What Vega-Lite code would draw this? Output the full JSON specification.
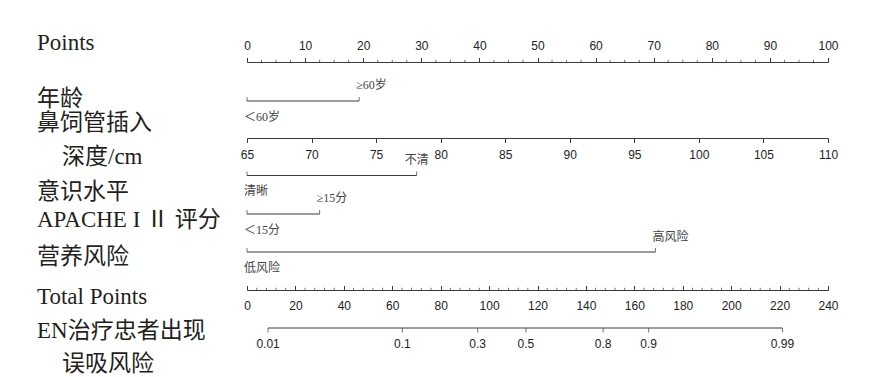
{
  "$schema": "https://vega.github.io/schema/vega-lite/v6.json",
  "padding": {"left": 37, "top": 32, "right": 10, "bottom": 5},
  "spacing": 0,
  "bounds": "flush",
  "datasets": {
    "factors": [
      {"variable": "age", "level": "＜60岁", "order": 1, "points": 0},
      {"variable": "age", "level": "≥60岁", "order": 2, "points": 19.3},
      {"variable": "consciousness", "level": "清晰", "order": 1, "points": 0},
      {"variable": "consciousness", "level": "不清", "order": 2, "points": 29.2},
      {"variable": "apache", "level": "＜15分", "order": 1, "points": 0},
      {"variable": "apache", "level": "≥15分", "order": 2, "points": 12.5},
      {"variable": "nutrition", "level": "低风险", "order": 1, "points": 0},
      {"variable": "nutrition", "level": "高风险", "order": 2, "points": 70.3}
    ],
    "risk": [
      {"p": "0.01", "total": 8.7},
      {"p": "0.1", "total": 64.2},
      {"p": "0.3", "total": 95.3},
      {"p": "0.5", "total": 115.2},
      {"p": "0.8", "total": 147.1},
      {"p": "0.9", "total": 165.9},
      {"p": "0.99", "total": 221.2}
    ],
    "pointsMinor": [
      {"v": 2.5}, {"v": 5}, {"v": 7.5}, {"v": 12.5}, {"v": 15}, {"v": 17.5}, {"v": 22.5}, {"v": 25}, {"v": 27.5}, {"v": 32.5}, {"v": 35}, {"v": 37.5}, {"v": 42.5}, {"v": 45}, {"v": 47.5}, {"v": 52.5}, {"v": 55}, {"v": 57.5}, {"v": 62.5}, {"v": 65}, {"v": 67.5}, {"v": 72.5}, {"v": 75}, {"v": 77.5}, {"v": 82.5}, {"v": 85}, {"v": 87.5}, {"v": 92.5}, {"v": 95}, {"v": 97.5}
    ],
    "totalMinor": [
      {"v": 4}, {"v": 8}, {"v": 12}, {"v": 16}, {"v": 24}, {"v": 28}, {"v": 32}, {"v": 36}, {"v": 44}, {"v": 48}, {"v": 52}, {"v": 56}, {"v": 64}, {"v": 68}, {"v": 72}, {"v": 76}, {"v": 84}, {"v": 88}, {"v": 92}, {"v": 96}, {"v": 104}, {"v": 108}, {"v": 112}, {"v": 116}, {"v": 124}, {"v": 128}, {"v": 132}, {"v": 136}, {"v": 144}, {"v": 148}, {"v": 152}, {"v": 156}, {"v": 164}, {"v": 168}, {"v": 172}, {"v": 176}, {"v": 184}, {"v": 188}, {"v": 192}, {"v": 196}, {"v": 204}, {"v": 208}, {"v": 212}, {"v": 216}, {"v": 224}, {"v": 228}, {"v": 232}, {"v": 236}
    ],
    "one": [{}]
  },
  "vconcat": [
    {
      "width": 581,
      "height": 3,
      "layer": [
        {
          "data": {"values": [{"points": 0}, {"points": 100}]},
          "mark": {"type": "point", "opacity": 0},
          "encoding": {
            "x": {
              "field": "points",
              "type": "quantitative",
              "scale": {"domain": [0, 100], "nice": false, "zero": false},
              "axis": {
                "orient": "top",
                "values": [0, 10, 20, 30, 40, 50, 60, 70, 80, 90, 100],
                "tickSize": 4.5,
                "labelPadding": 5,
                "labelOverlap": false
              }
            }
          }
        },
        {
          "data": {"name": "pointsMinor"},
          "mark": {"type": "tick", "orient": "vertical", "size": 2.2, "thickness": 1, "yOffset": -2.6, "color": "#3a3a3a"},
          "encoding": {"x": {"field": "v", "type": "quantitative"}}
        },
        {
          "data": {"name": "one"},
          "mark": {"type": "text", "align": "left", "baseline": "middle", "dx": -210, "dy": -20.5, "font": "Liberation Serif, Noto Sans CJK SC", "fontSize": 23, "color": "#231f20"},
          "encoding": {"x": {"datum": 0, "type": "quantitative"}, "text": {"value": "Points"}}
        }
      ]
    },
    {
      "width": 581,
      "height": 72,
      "layer": [
        {
          "data": {"name": "factors"},
          "transform": [{"filter": "datum.variable === 'age'"}],
          "layer": [
            {
              "mark": {"type": "rule", "color": "#3a3a3a", "strokeWidth": 1},
              "encoding": {
                "x": {"aggregate": "min", "field": "points", "type": "quantitative", "scale": {"domain": [0, 100], "nice": false, "zero": false}, "axis": null},
                "x2": {"aggregate": "max", "field": "points"}
              }
            },
            {
              "mark": {"type": "tick", "orient": "vertical", "size": 4, "thickness": 1, "yOffset": -2, "color": "#3a3a3a"},
              "encoding": {"x": {"field": "points", "type": "quantitative"}}
            },
            {
              "transform": [{"filter": "datum.order === 1"}],
              "mark": {"type": "text", "align": "left", "baseline": "middle", "dx": -3, "dy": 15.5, "font": "Liberation Serif, Noto Sans CJK SC", "fontSize": 12, "color": "#444"},
              "encoding": {"x": {"field": "points", "type": "quantitative"}, "text": {"field": "level"}}
            },
            {
              "transform": [{"filter": "datum.order === 2"}],
              "mark": {"type": "text", "align": "left", "baseline": "middle", "dx": -3, "dy": -16, "font": "Liberation Serif, Noto Sans CJK SC", "fontSize": 12, "color": "#444"},
              "encoding": {"x": {"field": "points", "type": "quantitative"}, "text": {"field": "level"}}
            }
          ]
        },
        {
          "data": {"name": "one"},
          "mark": {"type": "text", "align": "left", "baseline": "middle", "dx": -210, "dy": -2, "font": "Liberation Serif, Noto Sans CJK SC", "fontSize": 23, "color": "#231f20"},
          "encoding": {"x": {"datum": 0, "type": "quantitative"}, "text": {"value": "年龄"}}
        }
      ]
    },
    {
      "width": 581,
      "height": 1,
      "layer": [
        {
          "data": {"values": [{"depth": 65}, {"depth": 110}]},
          "mark": {"type": "point", "opacity": 0},
          "encoding": {
            "x": {
              "field": "depth",
              "type": "quantitative",
              "scale": {"domain": [65, 110], "nice": false, "zero": false},
              "axis": {
                "orient": "bottom",
                "values": [65, 70, 75, 80, 85, 90, 95, 100, 105, 110],
                "tickSize": 4.5,
                "labelPadding": 7,
                "labelOverlap": false
              }
            }
          }
        },
        {
          "data": {"name": "one"},
          "mark": {"type": "text", "align": "left", "baseline": "middle", "dx": -210, "dy": -14.5, "font": "Liberation Serif, Noto Sans CJK SC", "fontSize": 23, "color": "#231f20"},
          "encoding": {"x": {"datum": 65, "type": "quantitative"}, "text": {"value": "鼻饲管插入"}}
        },
        {
          "data": {"name": "one"},
          "mark": {"type": "text", "align": "left", "baseline": "middle", "dx": -185, "dy": 19.5, "font": "Liberation Serif, Noto Sans CJK SC", "fontSize": 23, "color": "#231f20"},
          "encoding": {"x": {"datum": 65, "type": "quantitative"}, "text": {"value": "深度/cm"}}
        }
      ]
    },
    {
      "width": 581,
      "height": 75,
      "layer": [
        {
          "data": {"name": "factors"},
          "transform": [{"filter": "datum.variable === 'consciousness'"}],
          "layer": [
            {
              "mark": {"type": "rule", "color": "#3a3a3a", "strokeWidth": 1},
              "encoding": {
                "x": {"aggregate": "min", "field": "points", "type": "quantitative", "scale": {"domain": [0, 100], "nice": false, "zero": false}, "axis": null},
                "x2": {"aggregate": "max", "field": "points"}
              }
            },
            {
              "mark": {"type": "tick", "orient": "vertical", "size": 4, "thickness": 1, "yOffset": -2, "color": "#3a3a3a"},
              "encoding": {"x": {"field": "points", "type": "quantitative"}}
            },
            {
              "transform": [{"filter": "datum.order === 1"}],
              "mark": {"type": "text", "align": "left", "baseline": "middle", "dx": -3, "dy": 15.5, "font": "Liberation Serif, Noto Sans CJK SC", "fontSize": 12, "color": "#444"},
              "encoding": {"x": {"field": "points", "type": "quantitative"}, "text": {"field": "level"}}
            },
            {
              "transform": [{"filter": "datum.order === 2"}],
              "mark": {"type": "text", "align": "center", "baseline": "middle", "dy": -16, "font": "Liberation Serif, Noto Sans CJK SC", "fontSize": 12, "color": "#444"},
              "encoding": {"x": {"field": "points", "type": "quantitative"}, "text": {"field": "level"}}
            }
          ]
        },
        {
          "data": {"name": "one"},
          "mark": {"type": "text", "align": "left", "baseline": "middle", "dx": -210, "dy": 16.5, "font": "Liberation Serif, Noto Sans CJK SC", "fontSize": 23, "color": "#231f20"},
          "encoding": {"x": {"datum": 0, "type": "quantitative"}, "text": {"value": "意识水平"}}
        }
      ]
    },
    {
      "width": 581,
      "height": 2,
      "layer": [
        {
          "data": {"name": "factors"},
          "transform": [{"filter": "datum.variable === 'apache'"}],
          "layer": [
            {
              "mark": {"type": "rule", "color": "#3a3a3a", "strokeWidth": 1},
              "encoding": {
                "x": {"aggregate": "min", "field": "points", "type": "quantitative", "scale": {"domain": [0, 100], "nice": false, "zero": false}, "axis": null},
                "x2": {"aggregate": "max", "field": "points"}
              }
            },
            {
              "mark": {"type": "tick", "orient": "vertical", "size": 4, "thickness": 1, "yOffset": -2, "color": "#3a3a3a"},
              "encoding": {"x": {"field": "points", "type": "quantitative"}}
            },
            {
              "transform": [{"filter": "datum.order === 1"}],
              "mark": {"type": "text", "align": "left", "baseline": "middle", "dx": -3, "dy": 15.5, "font": "Liberation Serif, Noto Sans CJK SC", "fontSize": 12, "color": "#444"},
              "encoding": {"x": {"field": "points", "type": "quantitative"}, "text": {"field": "level"}}
            },
            {
              "transform": [{"filter": "datum.order === 2"}],
              "mark": {"type": "text", "align": "left", "baseline": "middle", "dx": -3, "dy": -16, "font": "Liberation Serif, Noto Sans CJK SC", "fontSize": 12, "color": "#444"},
              "encoding": {"x": {"field": "points", "type": "quantitative"}, "text": {"field": "level"}}
            }
          ]
        },
        {
          "data": {"name": "one"},
          "mark": {"type": "text", "align": "left", "baseline": "middle", "dx": -210, "dy": 6, "font": "Liberation Serif, Noto Sans CJK SC", "fontSize": 23, "color": "#231f20"},
          "encoding": {"x": {"datum": 0, "type": "quantitative"}, "text": {"value": "APACHE I Ⅱ 评分"}}
        }
      ]
    },
    {
      "width": 581,
      "height": 74,
      "layer": [
        {
          "data": {"name": "factors"},
          "transform": [{"filter": "datum.variable === 'nutrition'"}],
          "layer": [
            {
              "mark": {"type": "rule", "color": "#3a3a3a", "strokeWidth": 1},
              "encoding": {
                "x": {"aggregate": "min", "field": "points", "type": "quantitative", "scale": {"domain": [0, 100], "nice": false, "zero": false}, "axis": null},
                "x2": {"aggregate": "max", "field": "points"}
              }
            },
            {
              "mark": {"type": "tick", "orient": "vertical", "size": 4, "thickness": 1, "yOffset": -2, "color": "#3a3a3a"},
              "encoding": {"x": {"field": "points", "type": "quantitative"}}
            },
            {
              "transform": [{"filter": "datum.order === 1"}],
              "mark": {"type": "text", "align": "left", "baseline": "middle", "dx": -3, "dy": 15.5, "font": "Liberation Serif, Noto Sans CJK SC", "fontSize": 12, "color": "#444"},
              "encoding": {"x": {"field": "points", "type": "quantitative"}, "text": {"field": "level"}}
            },
            {
              "transform": [{"filter": "datum.order === 2"}],
              "mark": {"type": "text", "align": "left", "baseline": "middle", "dx": -3, "dy": -15, "font": "Liberation Serif, Noto Sans CJK SC", "fontSize": 12, "color": "#444"},
              "encoding": {"x": {"field": "points", "type": "quantitative"}, "text": {"field": "level"}}
            }
          ]
        },
        {
          "data": {"name": "one"},
          "mark": {"type": "text", "align": "left", "baseline": "middle", "dx": -210, "dy": 5, "font": "Liberation Serif, Noto Sans CJK SC", "fontSize": 23, "color": "#231f20"},
          "encoding": {"x": {"datum": 0, "type": "quantitative"}, "text": {"value": "营养风险"}}
        }
      ]
    },
    {
      "width": 581,
      "height": 1,
      "layer": [
        {
          "data": {"values": [{"total": 0}, {"total": 240}]},
          "mark": {"type": "point", "opacity": 0},
          "encoding": {
            "x": {
              "field": "total",
              "type": "quantitative",
              "scale": {"domain": [0, 240], "nice": false, "zero": false},
              "axis": {
                "orient": "bottom",
                "values": [0, 20, 40, 60, 80, 100, 120, 140, 160, 180, 200, 220, 240],
                "tickSize": -4.5,
                "labelPadding": 15,
                "labelOverlap": false
              }
            }
          }
        },
        {
          "data": {"name": "totalMinor"},
          "mark": {"type": "tick", "orient": "vertical", "size": 2.2, "thickness": 1, "yOffset": -0.6, "color": "#3a3a3a"},
          "encoding": {"x": {"field": "v", "type": "quantitative"}}
        },
        {
          "data": {"name": "one"},
          "mark": {"type": "text", "align": "left", "baseline": "middle", "dx": -210, "dy": 7.5, "font": "Liberation Serif, Noto Sans CJK SC", "fontSize": 23, "color": "#231f20"},
          "encoding": {"x": {"datum": 0, "type": "quantitative"}, "text": {"value": "Total Points"}}
        }
      ]
    },
    {
      "width": 581,
      "height": 76,
      "layer": [
        {
          "data": {"name": "risk"},
          "layer": [
            {
              "mark": {"type": "rule", "color": "#3a3a3a", "strokeWidth": 1},
              "encoding": {
                "x": {"aggregate": "min", "field": "total", "type": "quantitative", "scale": {"domain": [0, 240], "nice": false, "zero": false}, "axis": null},
                "x2": {"aggregate": "max", "field": "total"}
              }
            },
            {
              "mark": {"type": "tick", "orient": "vertical", "size": 4.5, "thickness": 1, "yOffset": 2.25, "color": "#3a3a3a"},
              "encoding": {"x": {"field": "total", "type": "quantitative"}}
            },
            {
              "mark": {"type": "text", "align": "center", "baseline": "middle", "dy": 15.5, "font": "Liberation Sans", "fontSize": 12, "color": "#222"},
              "encoding": {"x": {"field": "total", "type": "quantitative"}, "text": {"field": "p"}}
            }
          ]
        },
        {
          "data": {"name": "one"},
          "mark": {"type": "text", "align": "left", "baseline": "middle", "dx": -210, "dy": 3, "font": "Liberation Serif, Noto Sans CJK SC", "fontSize": 23, "color": "#231f20"},
          "encoding": {"x": {"datum": 0, "type": "quantitative"}, "text": {"value": "EN治疗忠者出现"}}
        },
        {
          "data": {"name": "one"},
          "mark": {"type": "text", "align": "left", "baseline": "middle", "dx": -185, "dy": 36, "font": "Liberation Serif, Noto Sans CJK SC", "fontSize": 23, "color": "#231f20"},
          "encoding": {"x": {"datum": 0, "type": "quantitative"}, "text": {"value": "误吸风险"}}
        }
      ]
    }
  ],
  "config": {
    "view": {"stroke": null},
    "axis": {
      "grid": false,
      "title": null,
      "labelFont": "Liberation Sans",
      "labelFontSize": 12,
      "labelColor": "#222",
      "labelFlush": false,
      "labelOverlap": false,
      "domainColor": "#3a3a3a",
      "tickColor": "#3a3a3a",
      "domainWidth": 1,
      "tickWidth": 1
    }
  }
}
